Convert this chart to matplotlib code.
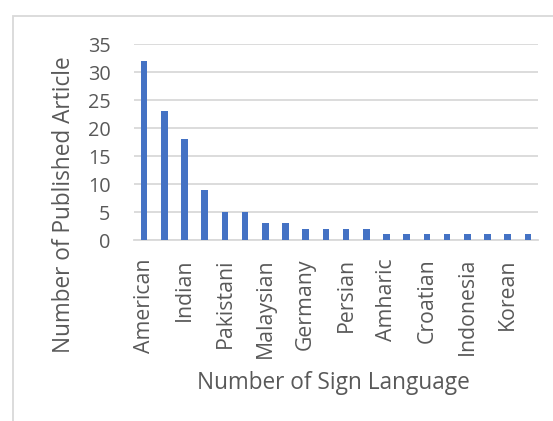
import matplotlib
matplotlib.use("Agg")
import matplotlib.pyplot as plt
from matplotlib.patches import Rectangle

# Articles per sign language (only every other category name is shown on the axis)
languages = ["American", "", "Indian", "", "Pakistani", "", "Malaysian", "",
             "Germany", "", "Persian", "", "Amharic", "", "Croatian", "",
             "Indonesia", "", "Korean", ""]
articles = [32, 23, 18, 9, 5, 5, 3, 3, 2, 2, 2, 2, 1, 1, 1, 1, 1, 1, 1, 1]
y_ticks = [0, 5, 10, 15, 20, 25, 30, 35]

text_color = "#595959"
grid_color = "#d9d9d9"
bar_color = "#4472c4"

plt.rcParams["font.family"] = ["Open Sans", "DejaVu Sans"]

W, H = 553, 421
fig = plt.figure(figsize=(W / 100, H / 100), dpi=100)

# chart frame (runs off the right and bottom edges)
fig.patches.append(Rectangle((13 / W, -0.1), 1.2, 1.1 - 16 / H, transform=fig.transFigure,
                             fill=False, edgecolor="#d9d9d9", linewidth=1.3))

left, right, top, bottom = 134, 538, 44, 240
ax = fig.add_axes([left / W, 1 - bottom / H, (right - left) / W, (bottom - top) / H])

x = list(range(len(articles)))
ax.bar(x, articles, width=0.32, color=bar_color, zorder=3)
ax.set_xlim(-0.5, len(articles) - 0.5)
ax.set_ylim(0, 35)
ax.set_yticks(y_ticks)
ax.set_xticks(x)
ax.set_xticklabels(languages, rotation=90, va="top", ha="center")

ax.grid(axis="y", color=grid_color, linewidth=1.3, zorder=0)
for s in ["top", "right", "left"]:
    ax.spines[s].set_visible(False)
ax.spines["bottom"].set_color(grid_color)
ax.spines["bottom"].set_linewidth(1.3)
ax.tick_params(axis="both", length=0, colors=text_color)
ax.tick_params(axis="y", labelsize=14.3, pad=17)
ax.tick_params(axis="x", labelsize=15.3, pad=13)

fig.text(64 / W, 1 - 205 / H, "Number of Published Article", color=text_color,
         fontsize=16.3, rotation=90, ha="center", va="center")
fig.text(333 / W, 1 - 383 / H, "Number of Sign Language", color=text_color,
         fontsize=16.3, ha="center", va="center")

fig.savefig("out.png", dpi=100, facecolor="white")
